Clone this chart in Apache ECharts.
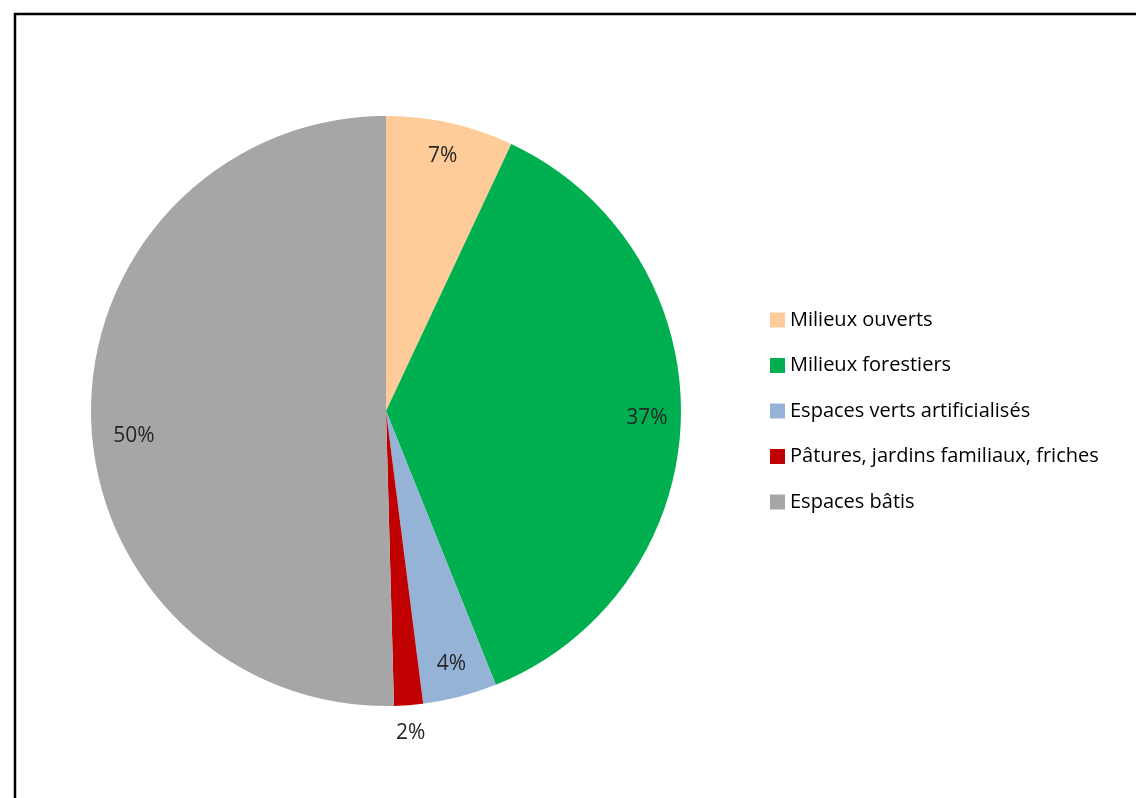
<!DOCTYPE html>
<html>
<head>
<meta charset="utf-8">
<script src="https://cdn.jsdelivr.net/npm/echarts@6/dist/echarts.min.js"></script>
<style>
html,body{margin:0;padding:0;background:#fff;}
#chart{width:1136px;height:798px;}
</style>
</head>
<body>
<div id="chart"></div>
<script>
const categories = ["Milieux ouverts", "Milieux forestiers", "Espaces verts artificialisés", "Pâtures, jardins familiaux, friches", "Espaces bâtis"];
const values = [6.98, 36.95, 4.06, 1.58, 50.43];
const labels = ["7%", "37%", "4%", "2%", "50%"];
const colors = ["#FFCC99", "#00B050", "#95B3D7", "#C00000", "#A6A6A6"];

const FONT = "Open Sans";
const chart = echarts.init(document.getElementById('chart'), null, {renderer: 'canvas'});

const baseData = categories.map((c, i) => ({name: c, value: values[i], itemStyle: {color: colors[i]}}));
// labels drawn near the rim (inner ring) and, for the small slice, just outside the pie
const OUTSIDE_IDX = 3;
const innerLabelData = categories.map((c, i) => ({
  name: c, value: values[i],
  label: {show: i !== OUTSIDE_IDX, formatter: labels[i], offset: i === 4 ? [9, 21] : [0, 0]}
}));
const outerLabelData = categories.map((c, i) => ({
  name: c, value: values[i],
  label: {show: i === OUTSIDE_IDX, formatter: labels[i]}
}));

const labelStyle = {position: 'inside', fontFamily: FONT, fontSize: 21, color: '#262626'};

chart.setOption({
  animation: false,
  color: colors,
  graphic: [{
    type: 'rect', shape: {x: 15, y: 14, width: 1300, height: 1000},
    style: {fill: 'none', stroke: '#000', lineWidth: 2.5}, silent: true, z: 100
  }],
  legend: {
    orient: 'vertical', left: 765, top: 305,
    itemWidth: 15, itemHeight: 15, itemGap: 25.5,
    icon: 'rect',
    textStyle: {fontFamily: FONT, fontSize: 20, color: '#000'},
    data: categories
  },
  series: [{
    type: 'pie', center: [386, 411], radius: [0, 295],
    startAngle: 90, clockwise: true,
    label: {show: false}, labelLine: {show: false},
    emphasis: {disabled: true},
    data: baseData
  }, {
    type: 'pie', center: [386, 411], radius: [221, 295],
    startAngle: 90, clockwise: true, silent: true,
    itemStyle: {color: 'rgba(0,0,0,0)'},
    label: labelStyle, labelLine: {show: false},
    emphasis: {disabled: true},
    legendHoverLink: false,
    data: innerLabelData
  }, {
    type: 'pie', center: [386, 411], radius: [305, 335],
    startAngle: 90, clockwise: true, silent: true,
    itemStyle: {color: 'rgba(0,0,0,0)'},
    label: labelStyle, labelLine: {show: false},
    emphasis: {disabled: true},
    legendHoverLink: false,
    data: outerLabelData
  }]
});
</script>
</body>
</html>
